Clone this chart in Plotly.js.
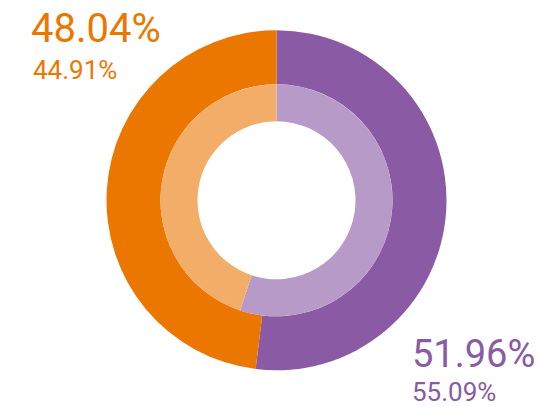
<!DOCTYPE html>
<html>
<head>
<meta charset="utf-8">
<script src="https://cdn.plot.ly/plotly-3.0.1.min.js"></script>
<style>html,body{margin:0;padding:0;background:#fff;}#chart{width:538px;height:406px;}</style>
</head>
<body>
<div id="chart"></div>
<script>
var categories = ["Purple", "Orange"];
var outerValues = [51.96, 48.04];
var innerValues = [55.09, 44.91];
var outerLabels = ["51.96%", "48.04%"];
var innerLabels = ["55.09%", "44.91%"];

var W = 538, H = 406;
var cx = 276.5, cy = 200.3;
var rOuter = 170, rMid = 116, rInner = 79;
function dom(r) {
  return {
    x: [(cx - r) / W, (cx + r) / W],
    y: [1 - (cy + r) / H, 1 - (cy - r) / H]
  };
}

var outer = {
  type: "pie",
  labels: categories,
  values: outerValues,
  sort: false,
  direction: "clockwise",
  rotation: 0,
  hole: rMid / rOuter,
  domain: dom(rOuter),
  textinfo: "none",
  hoverinfo: "none",
  marker: { colors: ["#8A5AA5", "#EC7700"], line: { color: "#ffffff", width: 0 } },
  showlegend: false
};
var inner = {
  type: "pie",
  labels: categories,
  values: innerValues,
  sort: false,
  direction: "clockwise",
  rotation: 0,
  hole: rInner / rMid,
  domain: dom(rMid),
  textinfo: "none",
  hoverinfo: "none",
  marker: { colors: ["#B89AC9", "#F2AD68"], line: { color: "#ffffff", width: 0 } },
  showlegend: false
};

var fontFam = "Roboto, 'Noto Sans', sans-serif";
var annotations = [
  { text: outerLabels[1], x: 30 / W, y: 1 - 29 / H, font: { size: 40, color: "#EC7700", family: fontFam } },
  { text: innerLabels[1], x: 32 / W, y: 1 - 70 / H, font: { size: 26, color: "#EC7700", family: fontFam } },
  { text: outerLabels[0], x: 411 / W, y: 1 - 354 / H, font: { size: 38, color: "#8A5AA5", family: fontFam } },
  { text: innerLabels[0], x: 411 / W, y: 1 - 392 / H, font: { size: 26, color: "#8A5AA5", family: fontFam } }
].map(function (a) {
  return Object.assign({ xref: "paper", yref: "paper", xanchor: "left", yanchor: "middle", showarrow: false, borderpad: 0 }, a);
});

var layout = {
  width: W, height: H,
  margin: { l: 0, r: 0, t: 0, b: 0 },
  paper_bgcolor: "#ffffff",
  annotations: annotations,
  showlegend: false
};
Plotly.newPlot("chart", [outer, inner], layout, { displayModeBar: false, staticPlot: true });
</script>
</body>
</html>
